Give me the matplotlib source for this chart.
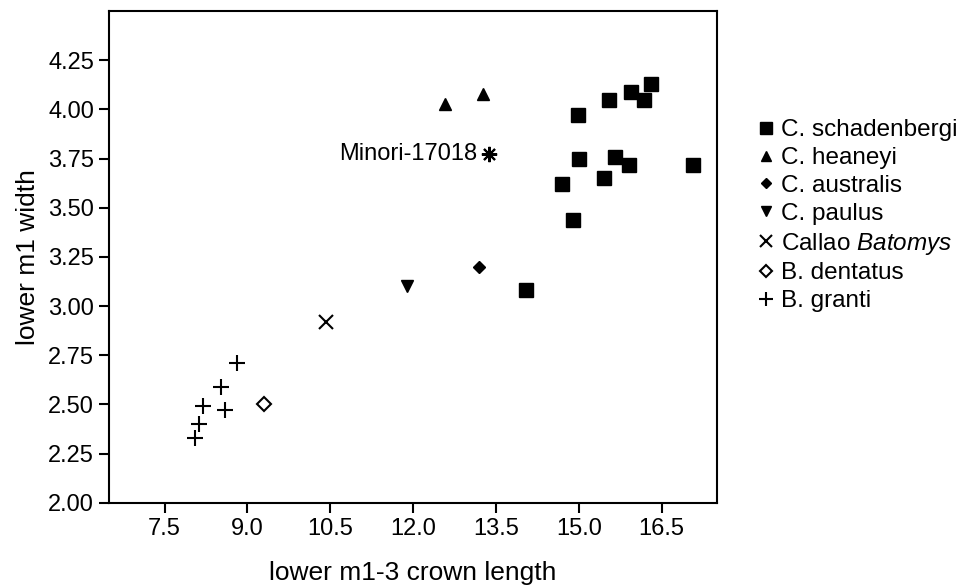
import numpy as np
import matplotlib
matplotlib.use("Agg")
from matplotlib import pyplot as plt

plt.rcParams['font.family'] = ['Liberation Sans', 'DejaVu Sans']
plt.rcParams['mathtext.fontset'] = 'custom'
plt.rcParams['mathtext.it'] = 'Liberation Sans:italic'
plt.rcParams['mathtext.rm'] = 'Liberation Sans'

# datos
schad_x = [14.99, 15.55, 15.95, 16.18, 16.30, 15.01, 15.65, 15.91, 17.06, 14.70, 15.45, 14.89, 14.05]
schad_y = [3.97, 4.05, 4.09, 4.05, 4.13, 3.75, 3.76, 3.72, 3.72, 3.62, 3.65, 3.44, 3.08]
heaneyi_x = [12.57, 13.27]
heaneyi_y = [4.03, 4.08]
australis_x = [13.19]
australis_y = [3.20]
paulus_x = [11.89]
paulus_y = [3.10]
callao_x = [10.43]
callao_y = [2.92]
dentatus_x = [9.31]
dentatus_y = [2.50]
granti_x = [8.82, 8.53, 8.20, 8.59, 8.13, 8.05]
granti_y = [2.71, 2.59, 2.49, 2.47, 2.40, 2.33]
minori_x = 13.37
minori_y = 3.775

xticks = [7.5, 9.0, 10.5, 12.0, 13.5, 15.0, 16.5]
yticks = [2.00, 2.25, 2.50, 2.75, 3.00, 3.25, 3.50, 3.75, 4.00, 4.25]

fig = plt.figure(figsize=(9.61, 5.86), dpi=100)
ax = fig.add_axes([0.1137, 0.142, 0.6323, 0.839])

ax.plot(schad_x, schad_y, 's', color='black', markersize=10, label='C. schadenbergi')
ax.plot(heaneyi_x, heaneyi_y, '^', color='black', markersize=8, label='C. heaneyi')
ax.plot(australis_x, australis_y, 'D', color='black', markersize=6, label='C. australis')
ax.plot(paulus_x, paulus_y, 'v', color='black', markersize=8, label='C. paulus')
ax.plot(callao_x, callao_y, 'x', color='black', markersize=10, markeredgewidth=1.5,
        label='Callao $\\it{Batomys}$')
ax.plot(dentatus_x, dentatus_y, 'D', markerfacecolor='white', markeredgecolor='black',
        markeredgewidth=1.5, markersize=7, label='B. dentatus')
ax.plot(granti_x, granti_y, '+', color='black', markersize=11, markeredgewidth=1.5, label='B. granti')

ax.plot([minori_x], [minori_y], marker=(8, 2, 0), color='black', markersize=11, markeredgewidth=1.5,
        linestyle='none')
ax.text(minori_x - 0.2, minori_y, 'Minori-17018', ha='right', va='center', fontsize=17)

ax.set_xlim(6.5, 17.5)
ax.set_ylim(2.0, 4.5)
ax.set_xticks(xticks)
ax.set_xticklabels(['%.1f' % v for v in xticks])
ax.set_yticks(yticks)
ax.set_yticklabels(['%.2f' % v for v in yticks])
ax.tick_params(labelsize=17, width=1.5, length=7, direction='out', pad=4)
for s in ax.spines.values():
    s.set_linewidth(1.5)

ax.set_xlabel('lower m1-3 crown length', fontsize=19, labelpad=15)
ax.set_ylabel('lower m1 width', fontsize=19, labelpad=6)

leg = ax.legend(loc='upper left', bbox_to_anchor=(1.05, 0.80), frameon=False, fontsize=17.5,
                handlelength=0.7, handletextpad=0.3, labelspacing=0.24, borderaxespad=0,
                markerscale=0.9)

plt.savefig('out.png', dpi=100)
plt.close()
